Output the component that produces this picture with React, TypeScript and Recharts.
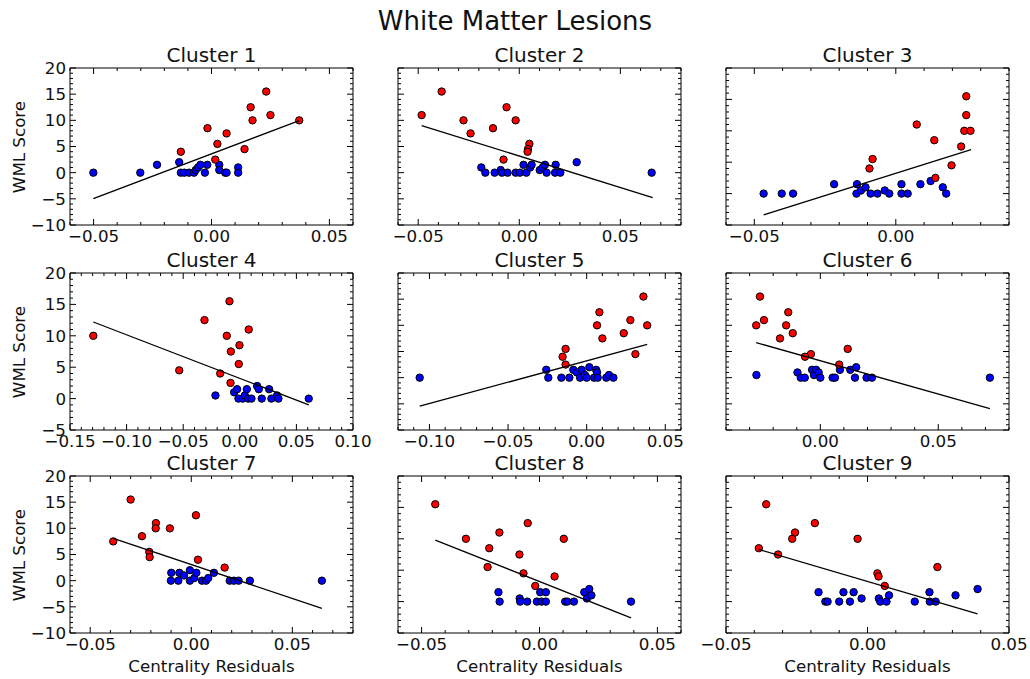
import React from 'react'
import { ScatterChart, Scatter, XAxis, YAxis } from 'recharts'

type Pt = [number, number]

// Cluster 1
const c1Red: Pt[] = [[-0.013, 4], [-0.0017, 8.5], [0.0025, 5.5], [0.0064, 7.5], [0.0016, 2.5], [0.014, 4.5], [0.0166, 12.5], [0.0174, 10], [0.0232, 15.5], [0.025, 11], [0.0372, 10]]
const c1Blue: Pt[] = [[-0.0501, 0], [-0.0302, 0], [-0.0231, 1.5], [-0.0137, 2], [-0.013, 0], [-0.0115, 0], [-0.0095, 0], [-0.0074, 0], [-0.0067, 0.5], [-0.0057, 1], [-0.0047, 1.5], [-0.0028, 0], [-0.0018, 1.5], [0.0033, 1.5], [0.0033, 0.5], [0.0058, 0], [0.0064, 0], [0.0113, 1], [0.0113, 0]]
const c1Fit: Pt[] = [[-0.0501, -4.95], [0.0372, 9.95]]

// Cluster 2
const c2Red: Pt[] = [[-0.0483, 11], [-0.0384, 15.5], [-0.0276, 10], [-0.0241, 7.5], [-0.013, 8.5], [-0.0063, 12.5], [-0.0018, 10], [0.005, 5.5], [0.0043, 4.5], [0.0041, 4], [-0.0078, 2.5]]
const c2Blue: Pt[] = [[-0.0188, 1], [-0.0168, 0], [-0.0122, 0], [-0.0092, 0.5], [-0.0086, 0], [-0.0058, 0], [-0.0018, 0], [0.0003, 0], [0.0021, 1.5], [0.0035, 0], [0.0054, 1], [0.0061, 1.5], [0.0101, 0.5], [0.0116, 1], [0.0127, 1.5], [0.0135, 0], [0.0177, 0], [0.018, 1.5], [0.0203, 0], [0.0284, 2], [0.0655, 0]]
const c2Fit: Pt[] = [[-0.0483, 9.0], [0.066, -4.75]]

// Cluster 3
const c3Red: Pt[] = [[0.0249, 15.5], [0.0249, 12.5], [0.0242, 10], [0.0264, 10], [0.0231, 7.5], [0.0136, 8.5], [0.0074, 11], [0.0197, 4.5], [-0.0082, 5.5], [-0.0093, 4], [0.014, 2.5]]
const c3Blue: Pt[] = [[-0.0467, 0], [-0.0403, 0], [-0.0363, 0], [-0.0218, 1.5], [-0.0137, 1.5], [-0.0139, 0], [-0.0123, 0.5], [-0.0107, 1], [-0.0089, 0], [-0.0065, 0], [-0.0039, 0.5], [-0.0023, 0], [0.002, 1.5], [0.002, 0], [0.0042, 0], [0.0087, 1.5], [0.0123, 2], [0.0166, 1], [0.0178, 0]]
const c3Fit: Pt[] = [[-0.0467, -3.4], [0.0266, 7.0]]

// Cluster 4
const c4Red: Pt[] = [[-0.1294, 10], [-0.0535, 4.5], [-0.0312, 12.5], [-0.0173, 4], [-0.0091, 15.5], [-0.0115, 10], [-0.0079, 7.5], [-0.0082, 2.5], [-0.0003, 8.5], [-0.0009, 5.5], [0.0079, 11]]
const c4Blue: Pt[] = [[-0.0215, 0.5], [-0.005, 1], [-0.0024, 1.5], [-0.0012, 0], [0.0026, 0], [0.0044, 0.5], [0.0062, 1.5], [0.0074, 0], [0.0103, 0], [0.0153, 2], [0.0168, 1.5], [0.0194, 0], [0.0259, 1.5], [0.0279, 0], [0.0329, 0.5], [0.0341, 0], [0.0609, 0]]
const c4Fit: Pt[] = [[-0.1294, 12.2], [0.0609, -1.0]]

// Cluster 5
const c5Red: Pt[] = [[0.0361, 15.5], [0.0081, 12.5], [0.0066, 10], [0.0278, 11], [0.0385, 10], [0.0236, 8.5], [0.01, 7.5], [-0.0134, 5.5], [-0.0153, 4], [-0.0134, 2.5], [0.031, 4.5]]
const c5Blue: Pt[] = [[-0.1062, 0], [-0.0257, 1.5], [-0.0244, 0], [-0.0161, 0], [-0.011, 0], [-0.0085, 1.5], [-0.0062, 1], [-0.0042, 0], [-0.0032, 1.5], [-0.0011, 0.5], [0, 0], [0.0017, 2], [0.0047, 0], [0.006, 1.5], [0.0066, 1], [0.007, 0], [0.0125, 0], [0.0142, 0.5], [0.017, 0]]
const c5Fit: Pt[] = [[-0.1062, -5.45], [0.0385, 6.35]]

// Cluster 6
const c6Red: Pt[] = [[-0.0256, 15.5], [-0.0272, 10], [-0.0239, 11], [-0.0136, 12.5], [-0.0145, 10], [-0.0117, 8.5], [-0.0171, 7.5], [-0.004, 4.5], [-0.0065, 4], [0.0116, 5.5], [0.008, 2.5]]
const c6Blue: Pt[] = [[-0.0271, 0.5], [-0.0097, 1], [-0.0083, 0], [-0.0066, 0], [-0.0035, 1.5], [-0.0027, 0.5], [-0.0018, 1.5], [-0.0007, 1], [0, 0], [0.0052, 0], [0.0062, 0], [0.0083, 1.5], [0.0127, 1.5], [0.0152, 2], [0.0147, 0], [0.0196, 0], [0.0219, 0], [0.0719, 0]]
const c6Fit: Pt[] = [[-0.0272, 6.7], [0.0719, -5.9]]

// Cluster 7
const c7Red: Pt[] = [[-0.0386, 7.5], [-0.03, 15.5], [-0.0244, 8.5], [-0.0208, 5.5], [-0.0206, 4.5], [-0.0175, 11], [-0.0176, 10], [-0.0106, 10], [0.0023, 12.5], [0.0033, 4], [0.0165, 2.5]]
const c7Blue: Pt[] = [[-0.0099, 1.5], [-0.0101, 0], [-0.0064, 0], [-0.0059, 1.5], [-0.0036, 1], [-0.0007, 2], [-0.0007, 0], [0.0015, 0.5], [0.0025, 1.5], [0.0053, 0], [0.0073, 0], [0.0084, 0.5], [0.0112, 1.5], [0.019, 0], [0.0211, 0], [0.0234, 0], [0.029, 0], [0.0646, 0]]
const c7Fit: Pt[] = [[-0.0386, 8.1], [0.0646, -5.3]]

// Cluster 8
const c8Red: Pt[] = [[-0.0442, 15.5], [-0.0312, 10], [-0.017, 11], [-0.0213, 8.5], [-0.022, 5.5], [-0.005, 12.5], [-0.0085, 7.5], [-0.0068, 4.5], [-0.0018, 2.5], [0.0064, 4], [0.0103, 10]]
const c8Blue: Pt[] = [[-0.0174, 1.5], [-0.0169, 0], [-0.0084, 0.5], [-0.0082, 0], [-0.0052, 0], [-0.0011, 0], [0.0003, 1.5], [0.0009, 0], [0.0027, 1.5], [0.0027, 0], [0.0109, 0], [0.0118, 0], [0.0146, 0], [0.019, 1.5], [0.0201, 0.5], [0.0211, 2], [0.022, 1], [0.0388, 0]]
const c8Fit: Pt[] = [[-0.0442, 9.8], [0.0388, -2.6]]

// Cluster 9
const c9Red: Pt[] = [[-0.0384, 8.5], [-0.0358, 15.5], [-0.0316, 7.5], [-0.0266, 10], [-0.0256, 11], [-0.0186, 12.5], [-0.0035, 10], [0.0035, 4.5], [0.0039, 4], [0.0061, 2.5], [0.0247, 5.5]]
const c9Blue: Pt[] = [[-0.0173, 1.5], [-0.0149, 0], [-0.0141, 0], [-0.01, 0], [-0.0085, 1.5], [-0.0062, 0], [-0.0049, 1.5], [-0.0021, 0.5], [0.004, 0.5], [0.0045, 0], [0.0067, 0], [0.0076, 1], [0.0167, 0], [0.0219, 1.5], [0.022, 0], [0.0241, 0], [0.0311, 1], [0.0389, 2]]
const c9Fit: Pt[] = [[-0.0384, 8.3], [0.0389, -1.95]]

// tick labels
const xTicksA = [-0.05, 0, 0.05]
const xTicks3 = [-0.05, 0]
const xTicks4 = [-0.15, -0.1, -0.05, 0, 0.05, 0.1]
const xTicks5 = [-0.1, -0.05, 0, 0.05]
const xTicks6 = [0, 0.05]
const yTicksA = [-10, -5, 0, 5, 10, 15, 20]
const yTicksB = [-5, 0, 5, 10, 15, 20]

const FONT = '"DejaVu Sans", sans-serif'
const TEXT = '#111'
const colLeft = [70, 398, 726]
const rowTop = [68, 273, 476]
const PW = 283
const PH = 157

const panels = [
  { title: 'Cluster 1', red: c1Red, blue: c1Blue, fit: c1Fit, xd: [-0.06, 0.06], yd: [-10, 20], xt: xTicksA, yt: yTicksA },
  { title: 'Cluster 2', red: c2Red, blue: c2Blue, fit: c2Fit, xd: [-0.06, 0.08], yd: [-10, 20], xt: xTicksA, yt: yTicksA },
  { title: 'Cluster 3', red: c3Red, blue: c3Blue, fit: c3Fit, xd: [-0.06, 0.04], yd: [-5, 20], xt: xTicks3, yt: yTicksB },
  { title: 'Cluster 4', red: c4Red, blue: c4Blue, fit: c4Fit, xd: [-0.15, 0.1], yd: [-5, 20], xt: xTicks4, yt: yTicksB },
  { title: 'Cluster 5', red: c5Red, blue: c5Blue, fit: c5Fit, xd: [-0.12, 0.06], yd: [-10, 20], xt: xTicks5, yt: yTicksA },
  { title: 'Cluster 6', red: c6Red, blue: c6Blue, fit: c6Fit, xd: [-0.04, 0.08], yd: [-10, 20], xt: xTicks6, yt: yTicksA },
  { title: 'Cluster 7', red: c7Red, blue: c7Blue, fit: c7Fit, xd: [-0.06, 0.08], yd: [-10, 20], xt: xTicksA, yt: yTicksA },
  { title: 'Cluster 8', red: c8Red, blue: c8Blue, fit: c8Fit, xd: [-0.06, 0.06], yd: [-5, 20], xt: xTicksA, yt: yTicksB },
  { title: 'Cluster 9', red: c9Red, blue: c9Blue, fit: c9Fit, xd: [-0.05, 0.05], yd: [-5, 20], xt: xTicksA, yt: yTicksB },
]

const near = (v: number, list: number[]) => list.some((m) => Math.abs(m - v) < 1e-9)
const steps = (lo: number, hi: number, step: number) => {
  const out: number[] = []
  const n = Math.round((hi - lo) / step)
  for (let i = 0; i <= n; i++) out.push(Math.round((lo + i * step) * 1e6) / 1e6)
  return out
}
const fmtX = (v: number) => (v < -1e-9 ? '\u2212' : '') + Math.abs(v).toFixed(2)
const fmtY = (v: number) => (v < 0 ? '\u2212' : '') + Math.abs(v)
const toXY = (pts: Pt[]) => pts.map(([x, y]) => ({ x, y }))

const tickBottom = (major: number[]) => (p: any) => {
  const big = near(p.payload.value, major)
  return (
    <g>
      <line x1={p.x} x2={p.x} y1={p.y} y2={p.y - (big ? 6 : 3)} stroke="#000" />
      {big && (
        <text x={p.x} y={p.y + 5} dy="0.71em" textAnchor="middle" fontSize={16.7} fontFamily={FONT} fill={TEXT}>
          {fmtX(p.payload.value)}
        </text>
      )}
    </g>
  )
}
const tickTop = (major: number[]) => (p: any) => {
  const big = near(p.payload.value, major)
  return <line x1={p.x} x2={p.x} y1={p.y} y2={p.y + (big ? 6 : 3)} stroke="#000" />
}
const tickLeft = (major: number[], show: boolean) => (p: any) => {
  const big = near(p.payload.value, major)
  return (
    <g>
      <line x1={p.x} x2={p.x + (big ? 6 : 3)} y1={p.y} y2={p.y} stroke="#000" />
      {show && big && (
        <text x={p.x - 4} y={p.y} dy="0.355em" textAnchor="end" fontSize={16.7} fontFamily={FONT} fill={TEXT}>
          {fmtY(p.payload.value)}
        </text>
      )}
    </g>
  )
}
const tickRight = (major: number[]) => (p: any) => {
  const big = near(p.payload.value, major)
  return <line x1={p.x} x2={p.x - (big ? 6 : 3)} y1={p.y} y2={p.y} stroke="#000" />
}

const dot = (fill: string) => (p: any) => <circle cx={p.cx} cy={p.cy} r={3.7} fill={fill} stroke="#000" strokeWidth={1} />
const noDot = () => <g />

function Panel({ cfg, left, top, showY }: any) {
  const xMinor = steps(cfg.xd[0], cfg.xd[1], 0.01)
  const yMinor = steps(cfg.yd[0], cfg.yd[1], 1)
  const axisCommon = { type: 'number' as const, allowDataOverflow: true, interval: 0, tickSize: 0, tickMargin: 0, tickLine: false, axisLine: { stroke: '#000', strokeWidth: 1 } }
  return (
    <>
      <div style={{ position: 'absolute', left, top: top - 25, width: PW, textAlign: 'center', fontSize: 20, lineHeight: '24px', color: TEXT }}>
        {cfg.title}
      </div>
      <div style={{ position: 'absolute', left: left - 70, top: top - 30 }}>
        <ScatterChart width={378} height={217} margin={{ top: 29, right: 24, bottom: 0, left: 0 }}>
          <XAxis xAxisId="b" dataKey="x" domain={cfg.xd} ticks={xMinor} height={30} tick={tickBottom(cfg.xt)} {...axisCommon} />
          <XAxis xAxisId="t" dataKey="x" orientation="top" domain={cfg.xd} ticks={xMinor} height={1} tick={tickTop(cfg.xt)} {...axisCommon} />
          <YAxis yAxisId="l" dataKey="y" domain={cfg.yd} ticks={yMinor} width={70} tick={tickLeft(cfg.yt, showY)} {...axisCommon} />
          <YAxis yAxisId="r" dataKey="y" orientation="right" domain={cfg.yd} ticks={yMinor} width={1} tick={tickRight(cfg.yt)} {...axisCommon} />
          <Scatter xAxisId="b" yAxisId="l" data={toXY(cfg.blue)} shape={dot('#0000ff')} isAnimationActive={false} />
          <Scatter xAxisId="b" yAxisId="l" data={toXY(cfg.red)} shape={dot('#ff0000')} isAnimationActive={false} />
          <Scatter xAxisId="b" yAxisId="l" data={toXY(cfg.fit)} shape={noDot} line={{ stroke: '#000', strokeWidth: 1.3 }} isAnimationActive={false} />
        </ScatterChart>
      </div>
    </>
  )
}

export default function App() {
  return (
    <div style={{ position: 'absolute', left: 0, top: 0, width: 1030, height: 679, background: '#fff', fontFamily: FONT, color: TEXT }}>
      <div style={{ position: 'absolute', left: 0, top: 6, width: 1030, textAlign: 'center', fontSize: 26, lineHeight: '30px' }}>
        White Matter Lesions
      </div>
      {panels.map((cfg, i) => (
        <Panel key={cfg.title} cfg={cfg} left={colLeft[i % 3]} top={rowTop[Math.floor(i / 3)]} showY={i % 3 === 0} />
      ))}
      {rowTop.map((t) => (
        <div key={'yl' + t} style={{ position: 'absolute', left: 19, top: t + PH / 2, transform: 'translate(-50%, -50%) rotate(-90deg)', whiteSpace: 'nowrap', fontSize: 16.7, lineHeight: '20px' }}>
          WML Score
        </div>
      ))}
      {colLeft.map((l) => (
        <div key={'xl' + l} style={{ position: 'absolute', left: l, top: 656, width: PW, textAlign: 'center', fontSize: 16.7, lineHeight: '20px' }}>
          Centrality Residuals
        </div>
      ))}
    </div>
  )
}
